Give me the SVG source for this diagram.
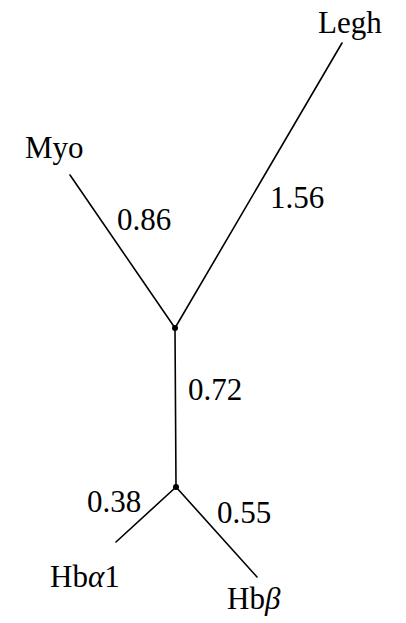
<svg xmlns="http://www.w3.org/2000/svg" width="406" height="623" viewBox="0 0 406 623">
<rect width="406" height="623" fill="#fff"/>
<g id="connectors" stroke="#000" stroke-width="1.6" fill="none" stroke-linecap="round">
  <line x1="175" y1="328" x2="70" y2="175"/>
  <line x1="175" y1="328" x2="342" y2="43"/>
  <line x1="175" y1="328" x2="176" y2="487"/>
  <line x1="176" y1="487" x2="116" y2="542"/>
  <line x1="176" y1="487" x2="257" y2="577"/>
</g>
<g id="edge-labels">
  <text x="117" y="230" style="font-family:'Times New Roman';font-size:31px">0.86</text>
  <text x="270" y="208" style="font-family:'Times New Roman';font-size:31px">1.56</text>
  <text x="188" y="400" style="font-family:'Times New Roman';font-size:31px">0.72</text>
  <text x="87" y="512" style="font-family:'Times New Roman';font-size:31px">0.38</text>
  <text x="217" y="523" style="font-family:'Times New Roman';font-size:31px">0.55</text>
</g>
<g id="node-root"><circle fill="#000" cx="175" cy="328" r="3"/></g>
<g id="node-inner"><circle fill="#000" cx="176" cy="487" r="3"/></g>
<g id="node-legh"><text x="318" y="33" style="font-family:'Times New Roman';font-size:31px">Legh</text></g>
<g id="node-myo"><text x="25" y="158" style="font-family:'Times New Roman';font-size:31px">Myo</text></g>
<g id="node-hba1"><text x="50" y="587" style="font-family:'Times New Roman';font-size:31px">Hb<tspan style="font-style:italic">&#945;</tspan>1</text></g>
<g id="node-hbb"><text x="227" y="609" style="font-family:'Times New Roman';font-size:31px">Hb<tspan style="font-style:italic">&#946;</tspan></text></g>
</svg>
